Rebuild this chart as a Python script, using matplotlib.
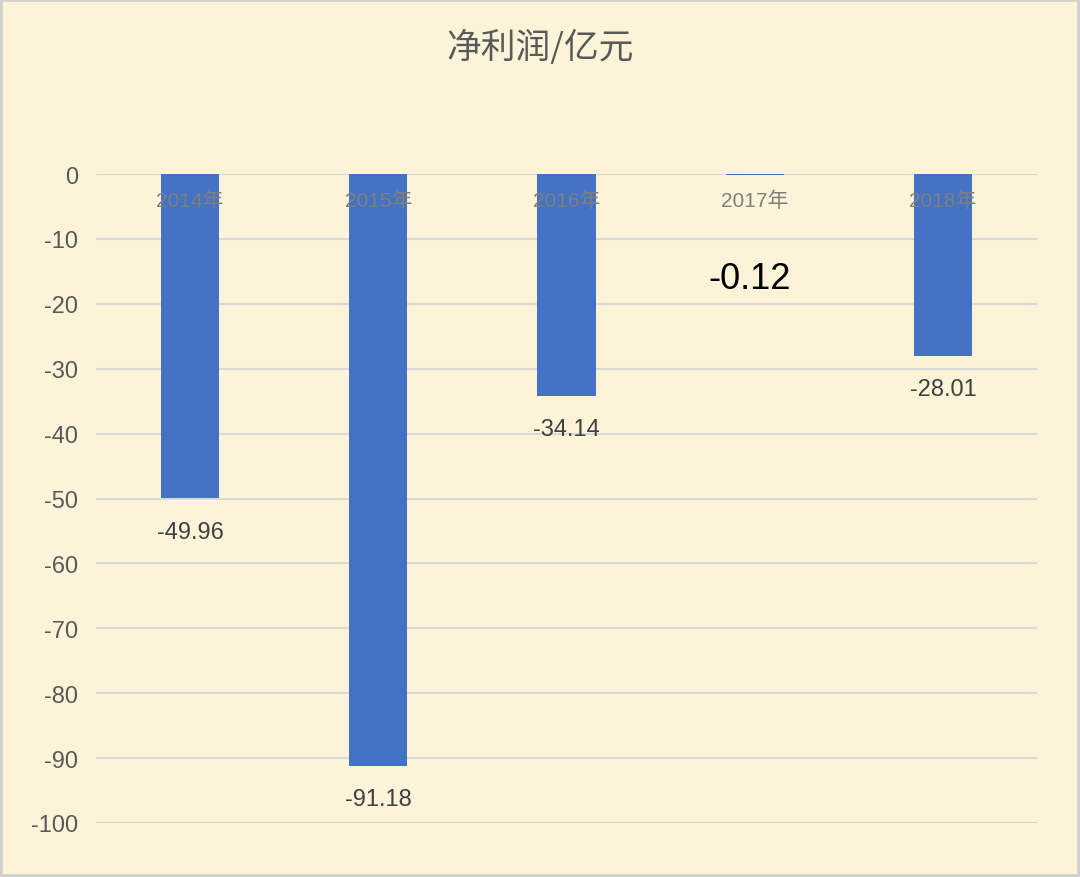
import matplotlib
matplotlib.use("Agg")
import matplotlib.pyplot as plt
from matplotlib.patches import Rectangle

categories = ["2014年", "2015年", "2016年", "2017年", "2018年"]
values = [-49.96, -91.18, -34.14, -0.12, -28.01]
yticks = [0, -10, -20, -30, -40, -50, -60, -70, -80, -90, -100]
title = "净利润/亿元"

plt.rcParams['font.family'] = ['Liberation Sans', 'Noto Sans CJK SC', 'DejaVu Sans']

bg = "#FCF3D9"
fig = plt.figure(figsize=(10.8, 8.78), dpi=100, facecolor=bg)
fig.patches.append(Rectangle((0, 0), 1, 1, transform=fig.transFigure,
                             facecolor="none", edgecolor="#CFCFCF", linewidth=4, zorder=10))
ax = fig.add_axes([96/1080, 1-824/878, (1037-96)/1080, (824-175)/878])
ax.set_facecolor(bg)

x = list(range(len(categories)))
ax.bar(x, values, width=0.31, color="#4472C4", zorder=3)
ax.set_xlim(-0.5, len(categories) - 0.5)
ax.set_ylim(-100, 0)
ax.set_yticks(yticks)
ax.set_yticklabels([str(t) for t in yticks], fontsize=17, color="#595959")
ax.tick_params(axis='y', length=0, pad=13)
ax.set_xticks([])
for s in ax.spines.values():
    s.set_visible(False)
ax.yaxis.grid(True, color="#D9D9D9", linewidth=1.5, zorder=1)
ax.set_axisbelow(True)

for xi, cat in zip(x, categories):
    ax.annotate(cat, (xi, 0), xytext=(0, -19), textcoords="offset points",
                ha="center", va="center", fontsize=15, color="#7F7F7F", zorder=5,
                family=['Liberation Sans', 'Noto Sans CJK SC'])

for xi, v in zip(x, values):
    if abs(v) < 1:
        ax.annotate(f"{v:.2f}", (xi, v), xytext=(-4, -75), textcoords="offset points",
                    ha="center", va="center", fontsize=26, color="#000000", zorder=5)
    else:
        ax.annotate(f"{v:.2f}", (xi, v), xytext=(0, -24), textcoords="offset points",
                    ha="center", va="center", fontsize=17, color="#404040", zorder=5)

fig.text(0.5, 1-48/878, title, ha="center", va="center", fontsize=25,
         color="#595959", family=['Noto Sans CJK SC', 'DejaVu Sans'])

fig.savefig("out.png", dpi=100, facecolor=bg)
